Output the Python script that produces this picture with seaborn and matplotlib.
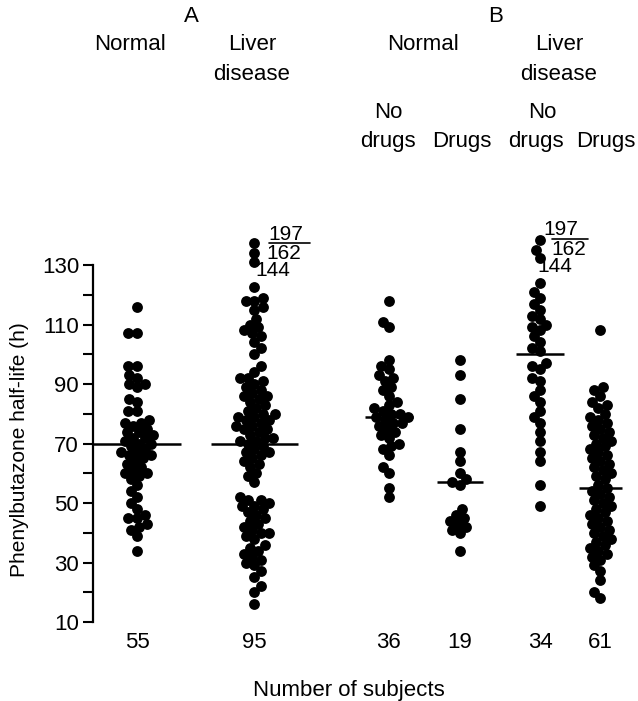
import numpy as np
import pandas as pd
import matplotlib
matplotlib.use("Agg")
import matplotlib.pyplot as plt
import seaborn as sns

# half-life values (h), one list per group
normal_a = [116, 107, 107, 96, 96, 93, 92, 90, 90, 89, 85, 84, 81, 81,
            78, 77, 77, 76, 75, 74, 74, 73, 72, 72, 71,
            70, 70, 69, 68, 67, 67, 66, 66, 65, 64, 63, 62, 61, 60, 60, 59, 58,
            56, 54, 52, 50, 48, 46, 45, 45, 43, 42, 41, 39, 34]
liver_a = [137.5, 134, 131, 122.5, 119, 118, 118, 116, 115,
           112, 110, 109, 108, 107, 106, 104, 102, 100,
           96, 94, 92, 92, 91, 90, 89, 88, 87, 86, 86, 85, 84, 83, 82, 81,
           80, 80, 79, 79, 78, 78, 77, 76, 76, 75, 75, 74, 73, 72, 72, 71, 71, 70,
           69, 68, 67, 67, 66, 65, 64, 63, 62, 60, 59, 57,
           52, 51, 51, 50, 49, 49, 48, 47, 46, 45, 44, 43, 42, 41, 40, 40,
           39, 38, 36, 35, 34, 33, 32, 31, 30, 29, 27, 25, 22, 20, 16]
normal_nodrugs = [118, 111, 109, 98, 96, 95, 93, 92, 91, 89, 88, 86,
                  84, 83, 82, 81, 80, 80, 79, 79, 78, 77, 77, 76, 75, 74, 73, 72,
                  70, 69, 68, 66, 62, 60, 55, 52]
normal_drugs = [98, 93, 85, 75, 67, 64, 60, 58, 57, 56,
                48, 46, 45, 44, 43, 42, 41, 40, 34]
liver_nodrugs = [138.5, 135, 132.5, 124, 121, 119, 117, 115, 113, 112, 110, 109,
                 108, 106, 104, 102, 101, 97, 96, 95, 92, 91, 88, 86, 84, 81,
                 79, 77, 74, 71, 67, 64, 56, 49]
liver_drugs = [108, 89, 88, 86, 84, 83, 82, 80, 79, 78, 77, 76, 75, 74, 73,
               72, 71, 70, 69, 68, 67, 66, 65, 64, 63, 62, 61, 60, 59, 58,
               56, 55, 54, 53, 52, 51, 50, 49, 48, 47, 46, 45, 44, 43, 42, 41,
               40, 39, 38, 37, 36, 35, 34, 33, 32, 31, 29, 27, 24, 20, 18]

groups = [normal_a, liver_a, normal_nodrugs, normal_drugs, liver_nodrugs, liver_drugs]
medians = [70, 70, 79, 57, 100, 55]
counts = ["55", "95", "36", "19", "34", "61"]

# layout
positions = [1.0, 1.97, 3.08, 3.67, 4.33, 4.83]
half_w = [0.36, 0.36, 0.2, 0.19, 0.2, 0.18]

sns.set_style("ticks")
plt.rcParams["font.family"] = ["Liberation Sans", "DejaVu Sans"]
plt.rcParams["font.size"] = 16
for k in ["text.color", "axes.labelcolor", "xtick.color", "ytick.color", "axes.edgecolor"]:
    plt.rcParams[k] = "black"

fig = plt.figure(figsize=(6.38, 7.01), dpi=100)
ax = fig.add_axes([93 / 638, 0.1127, 1 - 93 / 638, 0.5729])

# one call per group so each swarm gets its own full width
for p, g in zip(positions, groups):
    d = pd.DataFrame({"pos": p, "half_life": g})
    sns.swarmplot(data=d, x="pos", y="half_life", native_scale=True,
                  color="black", size=6.0, linewidth=0, ax=ax, clip_on=False)

ax.hlines(medians, np.array(positions) - np.array(half_w), np.array(positions) + np.array(half_w),
          color="black", lw=1.8, zorder=3)

ax.set_ylim(10, 145)
ax.set_xlim(0.636, 5.14)
ax.set_yticks(range(10, 131, 20))
ax.set_yticks(range(20, 121, 20), minor=True)
ax.tick_params(axis="y", which="both", direction="out", length=7, width=1.5, labelsize=16, pad=3)
ax.spines["left"].set_bounds(10, 130)
ax.spines["left"].set_linewidth(1.6)
for s in ["top", "right", "bottom"]:
    ax.spines[s].set_visible(False)

ax.set_xticks(positions, counts)
ax.tick_params(axis="x", length=0, labelsize=16, pad=7)

ax.set_ylabel("Phenylbutazone half-life (h)", fontsize=15)
ax.yaxis.set_label_coords(-0.118, 0.43)
ax.set_xlabel("Number of subjects", fontsize=16)
ax.xaxis.set_label_coords(0.47, -0.144)

# lay out the swarms with small dots, then freeze them and enlarge the dots
# so they overlap like in the printed figure
fig.canvas.draw()
for coll in ax.collections:
    if "draw" in coll.__dict__:
        del coll.draw
        coll.set_sizes([7.8 ** 2])

# broken-scale labels for the highest values
for x197, y197, xl, yline, x162, y162, x144, y144 in [
        (2.23, 140.4, (2.09, 2.43), 137.3, 2.21, 134.0, 2.12, 128.3),
        (4.50, 142.1, (4.43, 4.73), 138.7, 4.57, 135.1, 4.45, 129.6)]:
    ax.text(x197, y197, "197", ha="center", va="center", fontsize=15)
    ax.plot(xl, [yline, yline], color="black", lw=1.2, clip_on=False)
    ax.text(x162, y162, "162", ha="center", va="center", fontsize=15)
    ax.text(x144, y144, "144", ha="center", va="center", fontsize=15)

# group headers
headers = [("A", 191, 17), ("B", 496, 17),
           ("Normal", 130, 45), ("Liver", 252, 45), ("disease", 252, 74),
           ("Normal", 423, 45), ("Liver", 559, 45), ("disease", 559, 74),
           ("No", 388, 113), ("drugs", 388, 142), ("Drugs", 462, 142),
           ("No", 542, 113), ("drugs", 536, 142), ("Drugs", 606, 142)]
for txt, px, py in headers:
    fig.text(px / 638, 1 - py / 701, txt, ha="center", va="center", fontsize=16)

fig.savefig("out.png", dpi=100)
